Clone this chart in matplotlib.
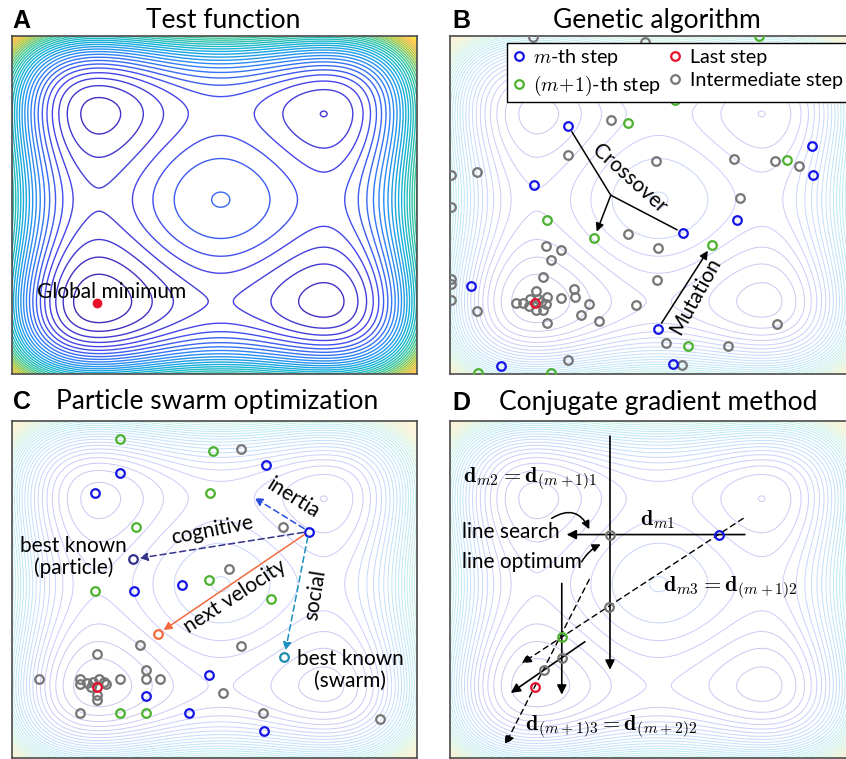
import numpy as np
import matplotlib.pyplot as plt
from matplotlib.colors import LinearSegmentedColormap
from matplotlib.lines import Line2D

plt.rcParams['font.family'] = ['Lato', 'DejaVu Sans']
plt.rcParams['mathtext.fontset'] = 'cm'

# ==========================================
# Test function: tilted double well in x and y
# ==========================================
half_width = 1.8
tilt_x = 0.22
tilt_y = 0.225
level_start = 0.442
level_step = 0.3115
n_levels = 36

parula_colors = ['#3e26a8', '#4746eb', '#2e87f7', '#12b1d8', '#37c79a',
                 '#abc738', '#fdbd3c', '#f9fb15']
parula = LinearSegmentedColormap.from_list('parula', parula_colors)

# ==========================================
# Panel A
# ==========================================
global_min = (0.21, 0.21)

# ==========================================
# Panel B: genetic algorithm (axes fraction units)
# ==========================================
ga_m_x = [0.292, 0.207, 0.051, 0.576, 0.708, 0.893, 0.897, 0.513, 0.550, 0.125]
ga_m_y = [0.734, 0.558, 0.259, 0.417, 0.456, 0.675, 0.590, 0.133, 0.030, 0.023]
ga_next_x = [0.440, 0.240, 0.356, 0.646, 0.833, 0.588, 0.070, 0.249, 0.763, 0.556]
ga_next_y = [0.744, 0.455, 0.402, 0.382, 0.633, 0.084, 0.003, 0.003, 1.000, 0.810]
ga_mid_x = [0.206, 0.481, 0.397, 0.291, 0.066, 0.002, 0.002, 0.508, 0.701, 0.802,
            0.862, 0.716, 0.440, 0.513, 0.237, 0.273, 0.249, 0.229, 0.510, 0.002,
            0.002, 0.002, 0.066, 0.307, 0.309, 0.274, 0.342, 0.459, 0.323, 0.369,
            0.239, 0.807, 0.533, 0.686, 0.291, 0.574,
            0.163, 0.181, 0.198, 0.212, 0.224, 0.237, 0.230, 0.240, 0.212, 0.196, 0.218]
ga_mid_y = [0.998, 0.983, 0.751, 0.649, 0.598, 0.588, 0.494, 0.629, 0.635, 0.629,
            0.616, 0.522, 0.415, 0.373, 0.380, 0.366, 0.336, 0.287, 0.279, 0.282,
            0.267, 0.220, 0.186, 0.252, 0.227, 0.224, 0.207, 0.205, 0.175, 0.158,
            0.151, 0.148, 0.092, 0.084, 0.041, 0.027,
            0.209, 0.209, 0.222, 0.247, 0.212, 0.206, 0.188, 0.229, 0.190, 0.200, 0.222]
ga_last = (0.210, 0.209)
ga_parent_a = (0.292, 0.734)
ga_parent_b = (0.576, 0.417)
ga_cross_point = (0.397, 0.529)
ga_child = (0.356, 0.402)
ga_mutant = (0.646, 0.382)
ga_mutant_src = (0.513, 0.133)

# ==========================================
# Panel C: particle swarm
# ==========================================
ps_m_x = [0.267, 0.206, 0.626, 0.733, 0.300, 0.420, 0.487, 0.330, 0.436, 0.621]
ps_m_y = [0.847, 0.785, 0.869, 0.672, 0.495, 0.513, 0.247, 0.185, 0.135, 0.080]
ps_next_x = [0.267, 0.496, 0.488, 0.305, 0.206, 0.487, 0.640, 0.267, 0.330]
ps_next_y = [0.946, 0.912, 0.785, 0.686, 0.495, 0.528, 0.471, 0.135, 0.135]
ps_mid_x = [0.566, 0.669, 0.536, 0.317, 0.566, 0.210, 0.067, 0.267, 0.330, 0.330,
            0.366, 0.520, 0.167, 0.620, 0.909,
            0.167, 0.167, 0.184, 0.200, 0.214, 0.228, 0.233, 0.210, 0.210, 0.195]
ps_mid_y = [0.916, 0.686, 0.561, 0.335, 0.331, 0.310, 0.235, 0.235, 0.262, 0.235,
            0.235, 0.194, 0.135, 0.135, 0.116,
            0.235, 0.220, 0.222, 0.227, 0.235, 0.227, 0.220, 0.188, 0.171, 0.212]
ps_last = (0.210, 0.210)
ps_particle = (0.733, 0.672)
ps_best_particle = (0.298, 0.590)
ps_new_pos = (0.360, 0.368)
ps_best_swarm = (0.672, 0.299)
ps_inertia_tip = (0.584, 0.783)

# ==========================================
# Panel D: conjugate gradient
# ==========================================
cg_start = (0.665, 0.663)
cg_line_opt = (0.395, 0.663)
cg_next_a = (0.393, 0.449)
cg_next_start = (0.276, 0.360)
cg_b1 = (0.276, 0.298)
cg_b2 = (0.232, 0.262)
cg_end = (0.210, 0.212)

c_blue = '#1414e6'
c_green = '#4cb22e'
c_grey = '#767676'
c_red = '#e8102a'


def draw_surface(ax, faded):
    u = np.linspace(0, 1, 500)
    U, V = np.meshgrid(u, u)
    X = -half_width + 2 * half_width * U
    Y = -half_width + 2 * half_width * V
    F = (X**2 - 1)**2 + (Y**2 - 1)**2 + tilt_x * X + tilt_y * Y
    levels = level_start + level_step * np.arange(-3, n_levels)
    ax.contour(U, V, F, levels=levels, cmap=parula,
               linewidths=0.7 if faded else 1.0, alpha=0.28 if faded else 1.0,
               vmin=levels[0], vmax=F.max())
    ax.set_xlim(0, 1)
    ax.set_ylim(0, 1)
    ax.set_xticks([])
    ax.set_yticks([])
    for s in ax.spines.values():
        s.set_color('#4a4a4a')
        s.set_linewidth(1.2)


def rings(ax, xs, ys, color, z=3):
    ax.plot(xs, ys, ls='none', marker='o', mfc='none', mec=color, mew=1.6, ms=6.2, zorder=z)


fig = plt.figure(figsize=(8.46, 7.59), dpi=100)
W, H = 846, 759
def axes_at(x0, y0, w, h):
    return fig.add_axes([x0 / W, 1 - (y0 + h) / H, w / W, h / H])

axA = axes_at(12, 36, 405, 338)
axB = axes_at(450, 36, 405, 338)
axC = axes_at(12, 421, 405, 337)
axD = axes_at(450, 421, 405, 337)

# panel titles and letters
for letter, lx, title, tx, base in [('A', 12, 'Test function', 223, 28),
                                    ('B', 452, 'Genetic algorithm', 657, 28),
                                    ('C', 13, 'Particle swarm optimization', 217, 409),
                                    ('D', 452, 'Conjugate gradient method', 658, 410)]:
    fig.text(lx / W, 1 - base / H, letter, fontsize=18, fontweight='bold',
             family=['Liberation Sans'], ha='left', va='baseline')
    fig.text(tx / W, 1 - base / H, title, fontsize=19, ha='center', va='baseline')

# ---- A ----
draw_surface(axA, faded=False)
axA.plot(*global_min, 'o', color=c_red, ms=6, zorder=4)
axA.text(0.062, 0.226, 'Global minimum', fontsize=15, ha='left', va='baseline')

# ---- B ----
draw_surface(axB, faded=True)
rings(axB, ga_mid_x, ga_mid_y, c_grey)
rings(axB, ga_m_x, ga_m_y, c_blue)
rings(axB, ga_next_x, ga_next_y, c_green)
rings(axB, [ga_last[0]], [ga_last[1]], c_red, z=4)
lk = dict(color='k', lw=1.1)
axB.annotate('', xy=ga_cross_point, xytext=ga_parent_a,
             arrowprops=dict(arrowstyle='-', shrinkA=5, shrinkB=0, **lk))
axB.annotate('', xy=ga_cross_point, xytext=ga_parent_b,
             arrowprops=dict(arrowstyle='-', shrinkA=5, shrinkB=0, **lk))
axB.annotate('', xy=ga_child, xytext=ga_cross_point,
             arrowprops=dict(arrowstyle='-|>', mutation_scale=12, shrinkA=0, shrinkB=5, **lk))
axB.annotate('', xy=ga_mutant, xytext=ga_mutant_src,
             arrowprops=dict(arrowstyle='-|>', mutation_scale=12, shrinkA=5, shrinkB=5, **lk))
axB.text(0.444, 0.578, 'Crossover', fontsize=15, rotation=-42, ha='center', va='center',
         rotation_mode='anchor')
axB.text(0.605, 0.232, 'Mutation', fontsize=15, rotation=61, ha='center', va='center',
         rotation_mode='anchor')
handles = [Line2D([], [], ls='none', marker='o', mfc='none', mec=c, mew=1.6, ms=6.2)
           for c in (c_blue, c_green, c_red, c_grey)]
labels = [r'$m$-th step', r'$(m\!+\!1)$-th step', 'Last step', 'Intermediate step']
leg = axB.legend(handles, labels, ncol=2, loc='upper left', bbox_to_anchor=(0.14, 0.979),
                 fancybox=False, edgecolor='k', framealpha=1, fontsize=14.2,
                 handlelength=0.8, handletextpad=0.35, columnspacing=0.3,
                 borderpad=0.2, labelspacing=0.3, borderaxespad=0)
leg.get_frame().set_linewidth(1.0)

# ---- C ----
draw_surface(axC, faded=True)
rings(axC, ps_mid_x, ps_mid_y, c_grey)
rings(axC, ps_m_x, ps_m_y, c_blue)
rings(axC, ps_next_x, ps_next_y, c_green)
rings(axC, [ps_last[0]], [ps_last[1]], c_red, z=4)
rings(axC, [ps_best_particle[0]], [ps_best_particle[1]], '#33338a')
rings(axC, [ps_new_pos[0]], [ps_new_pos[1]], '#f26a3d')
rings(axC, [ps_best_swarm[0]], [ps_best_swarm[1]], '#1b8fae')
dash = (0, (4, 2.5))
for tip, col, ls in [(ps_inertia_tip, '#2a4de0', dash), (ps_best_particle, '#33338a', dash),
                     (ps_best_swarm, '#1b8fbf', dash), (ps_new_pos, '#f26a3d', '-')]:
    axC.annotate('', xy=tip, xytext=ps_particle,
                 arrowprops=dict(arrowstyle='-|>', color=col, lw=1.1, linestyle=ls,
                                 mutation_scale=12, shrinkA=4, shrinkB=5))
axC.text(0.695, 0.770, 'inertia', fontsize=15, rotation=-32, ha='center', va='center',
         rotation_mode='anchor')
axC.text(0.494, 0.676, 'cognitive', fontsize=15, rotation=11, ha='center', va='center',
         rotation_mode='anchor')
axC.text(0.749, 0.484, 'social', fontsize=15, rotation=81, ha='center', va='center',
         rotation_mode='anchor')
axC.text(0.551, 0.479, 'next velocity', fontsize=15, rotation=33, ha='center', va='center',
         rotation_mode='anchor')
axC.text(0.152, 0.597, 'best known\n(particle)', fontsize=15, ha='center', va='center',
         linespacing=1.1)
axC.text(0.835, 0.262, 'best known\n(swarm)', fontsize=15, ha='center', va='center',
         linespacing=1.1)

# ---- D ----
draw_surface(axD, faded=True)
solid = dict(arrowstyle='-|>', color='k', lw=1.2, mutation_scale=14, shrinkA=0, shrinkB=0)
axD.annotate('', xy=(0.395, 0.262), xytext=(0.395, 0.955), arrowprops=solid)
axD.annotate('', xy=(0.288, 0.663), xytext=(0.728, 0.663), arrowprops=solid)
axD.annotate('', xy=(0.276, 0.188), xytext=(0.276, 0.518), arrowprops=solid)
axD.annotate('', xy=(0.150, 0.193), xytext=(0.333, 0.345), arrowprops=solid)
dashed = dict(arrowstyle='-|>', color='k', lw=1.0, linestyle=(0, (4, 3)),
              mutation_scale=14, shrinkA=0, shrinkB=0)
axD.annotate('', xy=(0.177, 0.281), xytext=(0.724, 0.711), arrowprops=dashed)
axD.annotate('', xy=(0.136, 0.039), xytext=(0.344, 0.530), arrowprops=dashed)
axD.annotate('', xy=(0.344, 0.679), xytext=(0.251, 0.711),
             arrowprops=dict(arrowstyle='-|>', color='k', lw=1.1, mutation_scale=12,
                             connectionstyle='arc3,rad=-0.55', shrinkA=0, shrinkB=0))
axD.annotate('', xy=(0.372, 0.634), xytext=(0.325, 0.582),
             arrowprops=dict(arrowstyle='-|>', color='k', lw=1.1, mutation_scale=12,
                             connectionstyle='arc3,rad=-0.15', shrinkA=0, shrinkB=0))
rings(axD, [cg_line_opt[0], cg_next_a[0], cg_b1[0], cg_b2[0]],
      [cg_line_opt[1], cg_next_a[1], cg_b1[1], cg_b2[1]], c_grey)
rings(axD, [cg_start[0]], [cg_start[1]], c_blue)
rings(axD, [cg_next_start[0]], [cg_next_start[1]], c_green)
rings(axD, [cg_end[0]], [cg_end[1]], c_red)
axD.text(0.033, 0.829, r'$\mathbf{d}_{m2}=\mathbf{d}_{(m+1)1}$', fontsize=16, ha='left', va='center')
axD.text(0.029, 0.671, 'line search', fontsize=15, ha='left', va='center')
axD.text(0.029, 0.582, 'line optimum', fontsize=15, ha='left', va='center')
axD.text(0.514, 0.706, r'$\mathbf{d}_{m1}$', fontsize=16, ha='center', va='center')
axD.text(0.527, 0.506, r'$\mathbf{d}_{m3}=\mathbf{d}_{(m+1)2}$', fontsize=16, ha='left', va='center')
axD.text(0.185, 0.094, r'$\mathbf{d}_{(m+1)3}=\mathbf{d}_{(m+2)2}$', fontsize=16, ha='left', va='center')

fig.savefig('out.png', dpi=100)
